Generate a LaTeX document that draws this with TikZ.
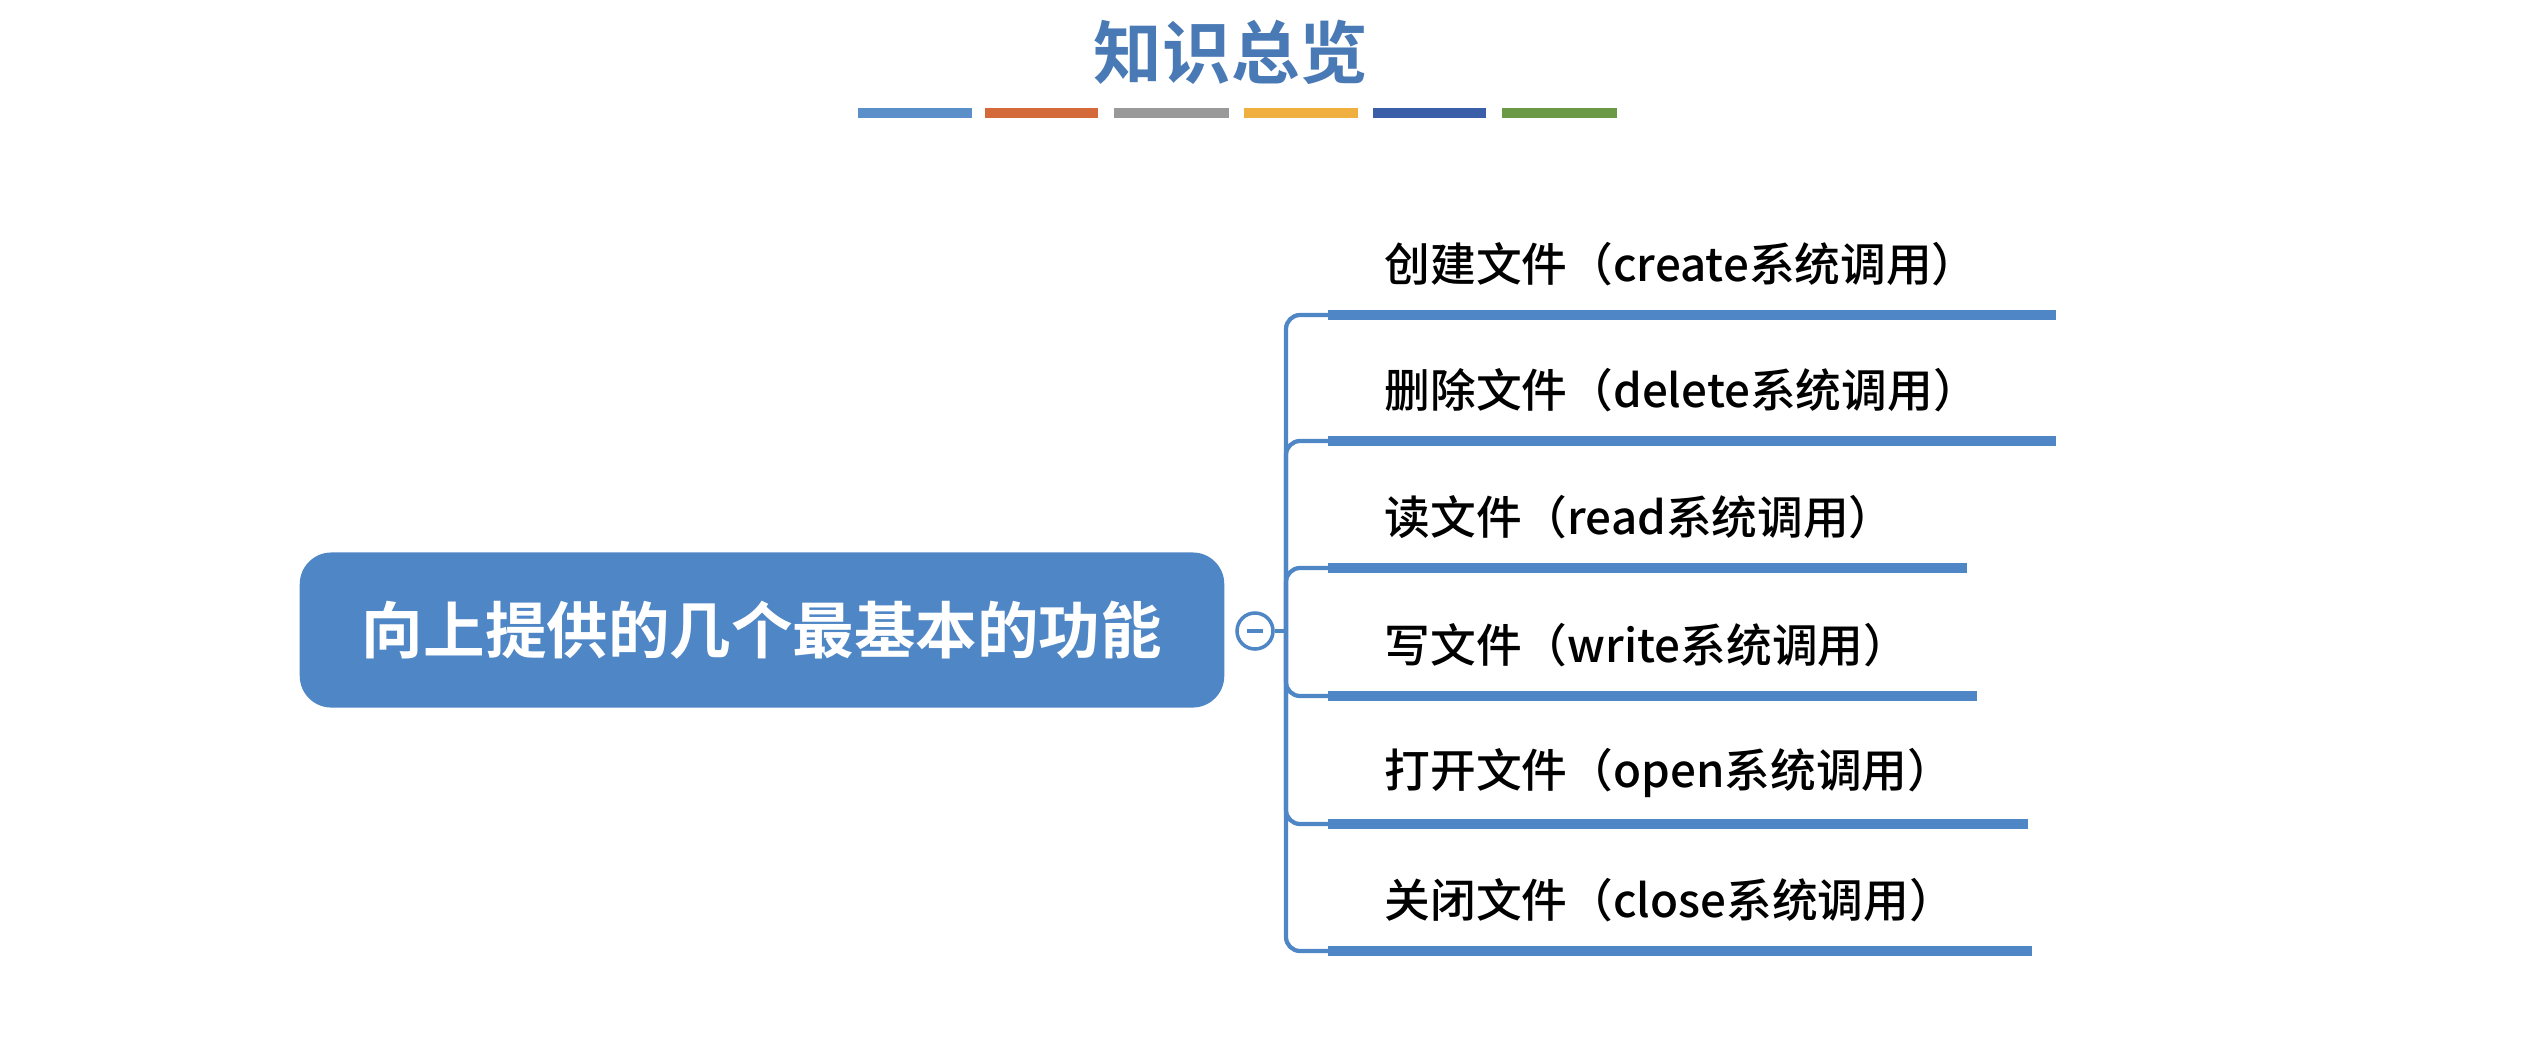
\documentclass[tikz,border=0pt]{standalone}
\usepackage{fontspec}
\setmainfont{Noto Sans CJK SC Medium}
\newfontfamily\cjkb{Noto Sans CJK SC Bold}
\begin{document}
\begin{tikzpicture}[x=0.01cm,y=-0.01cm,
  conn/.style={draw=mb, line width=1.2pt, rounded corners=4pt},
  lbl/.style={anchor=west, font=\fontsize{13}{13}\selectfont, inner sep=0pt}]
\definecolor{mb}{RGB}{79,134,198}
\useasboundingbox (0,0) rectangle (2533,1039);
\fill[white] (0,0) rectangle (2533,1039);
\node[font=\cjkb\fontsize{19.5}{19.5}\selectfont, text={rgb,255:red,74;green,122;blue,181}] (title) at (1231,52) {知识总览};
\foreach \a/\b/\c in {858/972/{91,143,201},985/1098/{212,106,58},1114/1229/{153,153,153},1244/1358/{240,176,64},1373/1486/{58,95,168},1502/1617/{106,154,69}}{
  \definecolor{bc}{RGB}{\c}
  \draw[bc, line width=2.9pt] (\a,113) -- (\b,113);
}
\node[fill=mb, rounded corners=9pt, minimum width=9.24cm, minimum height=1.55cm, text=white, font=\cjkb\fontsize{17.5}{17.5}\selectfont] (main) at (762,630) {向上提供的几个最基本的功能};
\node[circle, draw=mb, fill=white, line width=1pt, minimum size=0.36cm, inner sep=0pt] (c) at (1255,631) {};
\draw[mb, line width=1pt] (1247,631) -- (1263,631);
\coordinate (hub) at (1286,631);
\draw[conn] (c.east) -- (hub);
\foreach \y/\e/\t/\n in {315/2056/{创建文件（create系统调用）}/1,441/2056/{删除文件（delete系统调用）}/2,568/1967/{读文件（read系统调用）}/3,696/1977/{写文件（write系统调用）}/4,824/2028/{打开文件（open系统调用）}/5,951/2032/{关闭文件（close系统调用）}/6}{
  \coordinate (s\n) at (1328,\y);
  \coordinate (e\n) at (\e,\y);
  \draw[conn] (hub) |- (s\n);
  \draw[mb, line width=2.6pt] (s\n) -- (e\n);
  \node[lbl] (t\n) at (1384,\y-51) {\t};
}
\end{tikzpicture}
\end{document}
